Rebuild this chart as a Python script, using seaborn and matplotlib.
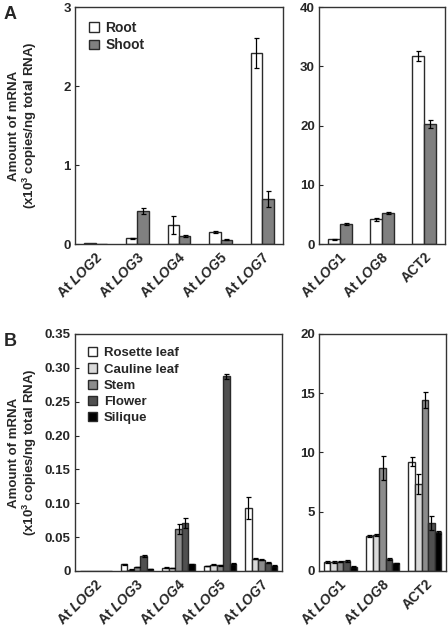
import pandas as pd
import matplotlib
matplotlib.use('Agg')
import matplotlib.pyplot as plt
import matplotlib.ticker as ticker
from matplotlib.patches import Patch
import seaborn as sns

# --- data ---
genes_a1 = ['LOG2', 'LOG3', 'LOG4', 'LOG5', 'LOG7']
root_a1 = [0.012, 0.07, 0.24, 0.15, 2.42]
root_a1_err = [0.0, 0.005, 0.11, 0.01, 0.19]
shoot_a1 = [0.006, 0.42, 0.105, 0.055, 0.57]
shoot_a1_err = [0.0, 0.04, 0.01, 0.005, 0.10]

genes_a2 = ['LOG1', 'LOG8', 'ACT2']
root_a2 = [0.79, 4.15, 31.7]
root_a2_err = [0.1, 0.25, 0.8]
shoot_a2 = [3.37, 5.2, 20.3]
shoot_a2_err = [0.2, 0.15, 0.7]

tissues = ['Rosette leaf', 'Cauline leaf', 'Stem', 'Flower', 'Silique']
genes_b1 = ['LOG2', 'LOG3', 'LOG4', 'LOG5', 'LOG7']
rosette_b1 = [0.0006, 0.0098, 0.005, 0.0074, 0.0926]
cauline_b1 = [0.0005, 0.002, 0.0045, 0.0094, 0.018]
stem_b1 = [0.0005, 0.006, 0.0625, 0.0084, 0.0165]
flower_b1 = [0.0005, 0.0226, 0.0704, 0.2875, 0.0125]
silique_b1 = [0.0004, 0.0025, 0.0098, 0.011, 0.0079]
rosette_b1_err = [0, 0.001, 0.0005, 0.0005, 0.016]
cauline_b1_err = [0, 0.0003, 0.0005, 0.0006, 0.001]
stem_b1_err = [0, 0.0006, 0.0075, 0.0005, 0.001]
flower_b1_err = [0, 0.0015, 0.0075, 0.004, 0.001]
silique_b1_err = [0, 0.0003, 0.0005, 0.0006, 0.0005]

genes_b2 = ['LOG1', 'LOG8', 'ACT2']
rosette_b2 = [0.79, 2.98, 9.23]
cauline_b2 = [0.76, 3.04, 7.37]
stem_b2 = [0.79, 8.72, 14.43]
flower_b2 = [0.87, 1.01, 4.02]
silique_b2 = [0.37, 0.65, 3.26]
rosette_b2_err = [0.08, 0.08, 0.4]
cauline_b2_err = [0.08, 0.1, 0.85]
stem_b2_err = [0.06, 1.0, 0.65]
flower_b2_err = [0.08, 0.06, 0.6]
silique_b2_err = [0.03, 0.05, 0.15]

# gene labels: "At" in upright, gene name in italic (ACT2 shown without "At")
def gene_label(g):
    if g == 'ACT2':
        return g
    return 'At $\\mathit{' + g + '}$'

col_a = {'Root': 'white', 'Shoot': '#808080'}
col_b = {'Rosette leaf': 'white', 'Cauline leaf': '#d9d9d9', 'Stem': '#8c8c8c',
         'Flower': '#505050', 'Silique': 'black'}

sns.set_theme(style='white')
plt.rcParams['font.family'] = ['Liberation Sans', 'DejaVu Sans']
plt.rcParams['font.weight'] = 'bold'
plt.rcParams['mathtext.fontset'] = 'custom'
plt.rcParams['mathtext.rm'] = 'Liberation Sans:bold'
plt.rcParams['mathtext.it'] = 'Liberation Sans:bold:italic'
plt.rcParams['mathtext.bf'] = 'Liberation Sans:bold'

fig = plt.figure(figsize=(4.48, 6.34), dpi=100)
ax_a1 = fig.add_axes([0.1674, 0.6151, 0.4643, 0.3738])
ax_a2 = fig.add_axes([0.7121, 0.6151, 0.2813, 0.3738])
ax_b1 = fig.add_axes([0.1674, 0.0994, 0.4621, 0.3738])
ax_b2 = fig.add_axes([0.7121, 0.0994, 0.2835, 0.3738])


def draw(ax, genes, series, errs, names, palette, width):
    rows = []
    for name, vals, ee in zip(names, series, errs):
        for g, v, e in zip(genes, vals, ee):
            rows.append({'gene': g, 'group': name, 'value': v, 'err': e})
    df = pd.DataFrame(rows)
    sns.barplot(data=df, x='gene', y='value', hue='group', hue_order=names,
                order=genes, palette=palette, edgecolor='#2a2a2a', linewidth=1.0,
                width=width, errorbar=None, legend=False, ax=ax)
    for cont, ee in zip(ax.containers, errs):
        for p, e in zip(cont.patches, ee):
            if e > 0:
                ax.errorbar(p.get_x() + p.get_width() / 2, p.get_height(), yerr=e,
                            fmt='none', ecolor='black', elinewidth=0.9,
                            capsize=1.8, capthick=0.9)
    ax.set_xlim(-0.5, len(genes) - 0.5)
    ax.set_xlabel('')
    ax.set_ylabel('')
    ax.set_xticks(range(len(genes)))
    ax.set_xticklabels([gene_label(g) for g in genes], rotation=45, ha='right',
                       rotation_mode='anchor', fontsize=10, fontweight='bold')
    ax.tick_params(axis='x', length=0, pad=4)
    ax.tick_params(axis='y', direction='in', length=3, width=0.8, labelsize=9.5,
                   pad=3, left=True)
    for s in ax.spines.values():
        s.set_color('#333333')
        s.set_linewidth(1.0)


draw(ax_a1, genes_a1, [root_a1, shoot_a1], [root_a1_err, shoot_a1_err],
     ['Root', 'Shoot'], col_a, 0.55)
draw(ax_a2, genes_a2, [root_a2, shoot_a2], [root_a2_err, shoot_a2_err],
     ['Root', 'Shoot'], col_a, 0.55)
draw(ax_b1, genes_b1, [rosette_b1, cauline_b1, stem_b1, flower_b1, silique_b1],
     [rosette_b1_err, cauline_b1_err, stem_b1_err, flower_b1_err, silique_b1_err],
     tissues, col_b, 0.78)
draw(ax_b2, genes_b2, [rosette_b2, cauline_b2, stem_b2, flower_b2, silique_b2],
     [rosette_b2_err, cauline_b2_err, stem_b2_err, flower_b2_err, silique_b2_err],
     tissues, col_b, 0.78)

ax_a1.set_ylim(0, 3)
ax_a1.set_yticks([0, 1, 2, 3])
ax_a2.set_ylim(0, 40)
ax_a2.set_yticks([0, 10, 20, 30, 40])
ax_b1.set_ylim(0, 0.35)
ax_b1.set_yticks([0, 0.05, 0.1, 0.15, 0.2, 0.25, 0.3, 0.35])
ax_b1.yaxis.set_major_formatter(ticker.FuncFormatter(lambda v, p: '0' if v == 0 else f'{v:.2f}'))
ax_b2.set_ylim(0, 20)
ax_b2.set_yticks([0, 5, 10, 15, 20])
for ax in (ax_a1, ax_a2, ax_b1, ax_b2):
    for lab in ax.get_yticklabels():
        lab.set_fontweight('bold')

ylab = 'Amount of mRNA\n(x10$^\\mathregular{3}$ copies/ng total RNA)'
for ax in (ax_a1, ax_b1):
    ax.set_ylabel(ylab, fontsize=9.5, fontweight='bold', linespacing=1.1)
    ax.yaxis.set_label_coords(-0.172, 0.5)

# legends
h_a = [Patch(facecolor=col_a[n], edgecolor='#2a2a2a', linewidth=1.0) for n in ['Root', 'Shoot']]
ax_a1.legend(h_a, ['Root', 'Shoot'], loc='upper left', frameon=False,
             handlelength=0.7, handleheight=0.7, handletextpad=0.5, labelspacing=0.25,
             borderaxespad=0.6, prop={'weight': 'bold', 'size': 10})
h_b = [Patch(facecolor=col_b[n], edgecolor='#2a2a2a', linewidth=1.0) for n in tissues]
ax_b1.legend(h_b, tissues, loc='upper left', frameon=False,
             handlelength=0.7, handleheight=0.7, handletextpad=0.5, labelspacing=0.3,
             borderaxespad=0.6, prop={'weight': 'bold', 'size': 9.5})

fig.text(0.008, 0.99, 'A', fontsize=13, fontweight='bold', va='top', ha='left')
fig.text(0.008, 0.475, 'B', fontsize=13, fontweight='bold', va='top', ha='left')

fig.savefig('out.png', dpi=100)
